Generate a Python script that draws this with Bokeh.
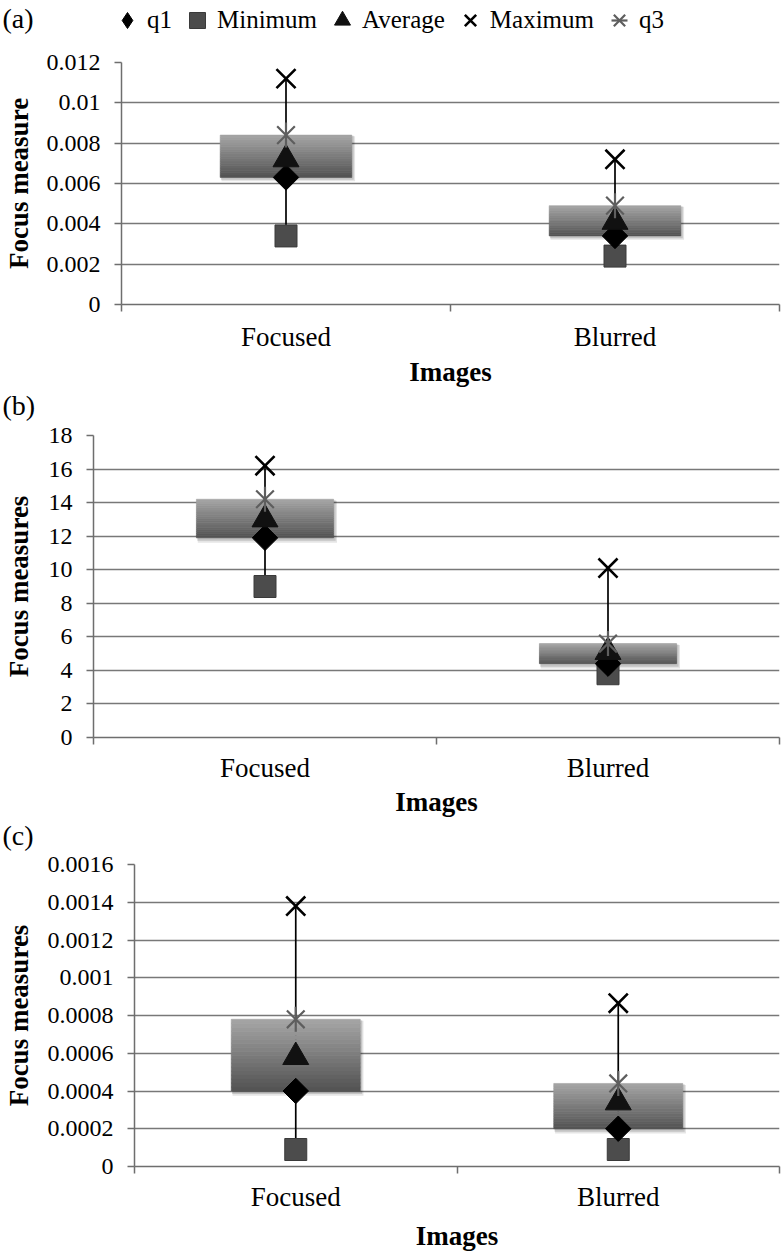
import math
from bokeh.plotting import figure
from bokeh.models import (Range1d, LinearAxis, FixedTicker, Label, Legend,
                          LegendItem, Grid)
from bokeh.layouts import column
from bokeh.embed import file_html
from bokeh.resources import INLINE

categories = ["Focused", "Blurred"]
legend_labels = ["q1", "Minimum", "Average", "Maximum", "q3"]

# panel (a)
a_q1 = [0.0063, 0.0034]
a_min = [0.0034, 0.0024]
a_avg = [0.0072, 0.0041]
a_max = [0.0112, 0.0072]
a_q3 = [0.0084, 0.0049]
a_yticks = [0, 0.002, 0.004, 0.006, 0.008, 0.01, 0.012]
a_ylabels = ["0", "0.002", "0.004", "0.006", "0.008", "0.01", "0.012"]

# panel (b)
b_q1 = [11.9, 4.4]
b_min = [9.0, 3.8]
b_avg = [13.0, 5.1]
b_max = [16.2, 10.1]
b_q3 = [14.2, 5.6]
b_yticks = [0, 2, 4, 6, 8, 10, 12, 14, 16, 18]
b_ylabels = ["0", "2", "4", "6", "8", "10", "12", "14", "16", "18"]

# panel (c)
c_q1 = [0.0004, 0.0002]
c_min = [0.00009, 0.00009]
c_avg = [0.00058, 0.00034]
c_max = [0.00138, 0.000865]
c_q3 = [0.00078, 0.00044]
c_yticks = [0, 0.0002, 0.0004, 0.0006, 0.0008, 0.001, 0.0012, 0.0014, 0.0016]
c_ylabels = ["0", "0.0002", "0.0004", "0.0006", "0.0008", "0.001", "0.0012",
             "0.0014", "0.0016"]

FONT = "Liberation Serif"
AXC = "#6e6e6e"
W = 784
TAG_PX = "28px"


def add_markers(p, xs, q1, mn, avg, mx, q3, q1_marker="square", q1_angle=math.pi / 4,
                q1_size=18):
    r_min = p.scatter(xs, mn, marker="square", size=22, fill_color="#4c4c4c",
                      line_color="#3a3a3a", line_width=1)
    r_q1 = p.scatter(xs, q1, marker=q1_marker, angle=q1_angle, size=q1_size,
                     fill_color="black", line_color="black")
    r_avg = p.scatter(xs, avg, marker="triangle", size=26,
                      fill_color="#111111", line_color="#111111")
    r_q3a = p.scatter(xs, q3, marker="x", size=25, line_color="#5e5e5e",
                      line_width=2.2)
    r_q3b = p.scatter(xs, q3, marker="dash", angle=math.pi / 2, size=25,
                      line_color="#5e5e5e", line_width=2.2)
    r_max = p.scatter(xs, mx, marker="x", size=27, line_color="black",
                      line_width=2.6)
    return r_q1, r_min, r_avg, r_max, [r_q3a, r_q3b]


def strip(height, tag, tag_center, legend=False):
    p = figure(width=W, height=height, x_range=Range1d(10, 11),
               y_range=Range1d(0, 1), x_axis_type=None, y_axis_type=None,
               output_backend="svg", toolbar_location=None, title=None,
               min_border=0, frame_align=False)
    p.outline_line_color = None
    p.grid.visible = False
    p.add_layout(Label(x=2, y=height - tag_center, x_units="screen",
                       y_units="screen", text=tag, text_font=FONT,
                       text_font_size=TAG_PX, text_baseline="middle",
                       text_align="left", text_color="black"))
    if legend:
        xs = [i + 0.5 for i in range(len(categories))]
        # legend proxies (same styles as the plotted marks, out of view)
        r_q1, r_min, r_avg, r_max, r_q3 = add_markers(
            p, xs, a_q1, a_min, a_avg, a_max, a_q3,
            q1_marker="diamond", q1_angle=0, q1_size=27)
        rends = [[r_q1], [r_min], [r_avg], [r_max], r_q3]
        lg = Legend(items=[LegendItem(label=l, renderers=r)
                           for l, r in zip(legend_labels, rends)],
                    location=(107, height - 40),
                    orientation="horizontal",
                    background_fill_alpha=0, border_line_alpha=0,
                    padding=0, margin=0, spacing=5,
                    glyph_width=40, glyph_height=40, label_standoff=0,
                    label_text_font=FONT, label_text_font_size="25px",
                    label_text_color="black")
        p.add_layout(lg)
    return p


def panel(q1, mn, avg, mx, q3, yticks, ylabels, ytitle, height, btop,
          bbottom, bleft, xstandoff, xlabstandoff, ylabstandoff):
    n = len(categories)
    xs = [i + 0.5 for i in range(n)]
    ymax = yticks[-1]
    p = figure(width=W, height=height, x_range=Range1d(0, n),
               y_range=Range1d(0, ymax), x_axis_type=None, y_axis_type=None,
               output_backend="svg", toolbar_location=None, title=None,
               min_border_left=bleft, min_border_right=5,
               min_border_top=btop, min_border_bottom=bbottom,
               frame_align=False)
    p.outline_line_color = None
    p.background_fill_color = "white"
    p.border_fill_color = "white"

    yticker = FixedTicker(ticks=yticks, minor_ticks=[])
    yaxis = LinearAxis(ticker=yticker,
                       major_label_overrides=dict(zip(yticks, ylabels)),
                       axis_label=ytitle,
                       axis_label_text_font=FONT,
                       axis_label_text_font_style="bold",
                       axis_label_text_font_size="27px",
                       axis_label_text_color="black",
                       axis_label_standoff=ylabstandoff,
                       major_label_text_font=FONT,
                       major_label_text_font_size="24px",
                       major_label_text_color="black",
                       major_label_standoff=14,
                       major_tick_out=7, major_tick_in=0,
                       minor_tick_out=0, minor_tick_in=0,
                       axis_line_color=AXC, axis_line_width=1.5,
                       major_tick_line_color=AXC, major_tick_line_width=1.5)
    p.add_layout(yaxis, "left")

    xticker = FixedTicker(ticks=xs, minor_ticks=list(range(n + 1)))
    xaxis = LinearAxis(ticker=xticker,
                       major_label_overrides=dict(zip(xs, categories)),
                       axis_label="Images",
                       axis_label_text_font=FONT,
                       axis_label_text_font_style="bold",
                       axis_label_text_font_size="27px",
                       axis_label_text_color="black",
                       axis_label_standoff=xlabstandoff,
                       major_label_text_font=FONT,
                       major_label_text_font_size="27px",
                       major_label_text_color="black",
                       major_label_standoff=xstandoff,
                       major_tick_out=0, major_tick_in=0,
                       minor_tick_out=7, minor_tick_in=0,
                       axis_line_color=AXC, axis_line_width=1.5,
                       minor_tick_line_color=AXC, minor_tick_line_width=1.5)
    p.add_layout(xaxis, "below")

    p.add_layout(Grid(dimension=1, ticker=yticker, grid_line_color="#787878",
                      grid_line_width=1.3))

    # whisker (min to max)
    p.segment(x0=xs, y0=mn, x1=xs, y1=mx, line_color="black", line_width=1.7)

    half = 0.2
    # soft shadow of the q1-q3 box
    for dx, dy, al in [(0.010, 0.016, 0.10), (0.006, 0.010, 0.14)]:
        p.quad(left=[x - half + dx * 0.4 for x in xs],
               right=[x + half + dx for x in xs],
               bottom=[v - ymax * dy for v in q1],
               top=[v - ymax * dy * 0.3 for v in q3],
               fill_color="black", fill_alpha=al, line_color=None)
    # gradient box q1 -> q3
    nb = 18
    for k in range(nb):
        f0, f1 = k / nb, (k + 1) / nb
        shade = int(0x52 + (0xa6 - 0x52) * (k + 0.5) / nb)
        col = "#%02x%02x%02x" % (shade, shade, shade)
        p.quad(left=[x - half for x in xs], right=[x + half for x in xs],
               bottom=[lo + (hi - lo) * f0 for lo, hi in zip(q1, q3)],
               top=[lo + (hi - lo) * f1 for lo, hi in zip(q1, q3)],
               fill_color=col, line_color=col, line_width=0.6)

    add_markers(p, xs, q1, mn, avg, mx, q3)
    return p


sa = strip(44, "(a)", 18, legend=True)
pa = panel(a_q1, a_min, a_avg, a_max, a_q3, a_yticks, a_ylabels,
           "Focus measure", 345, 18, 84, 119, 10, 2, 10)
sb = strip(32, "(b)", 16)
pb = panel(b_q1, b_min, b_avg, b_max, b_q3, b_yticks, b_ylabels,
           "Focus measures", 398, 14, 81, 89, 8, 1, 12)
sc = strip(32, "(c)", 16)
pc = panel(c_q1, c_min, c_avg, c_max, c_q3, c_yticks, c_ylabels,
           "Focus measures", 402, 13, 86, 131, 8, 6, 11)

layout = column(sa, pa, sb, pb, sc, pc, spacing=0)
open("out.html", "w").write(file_html(layout, INLINE))
